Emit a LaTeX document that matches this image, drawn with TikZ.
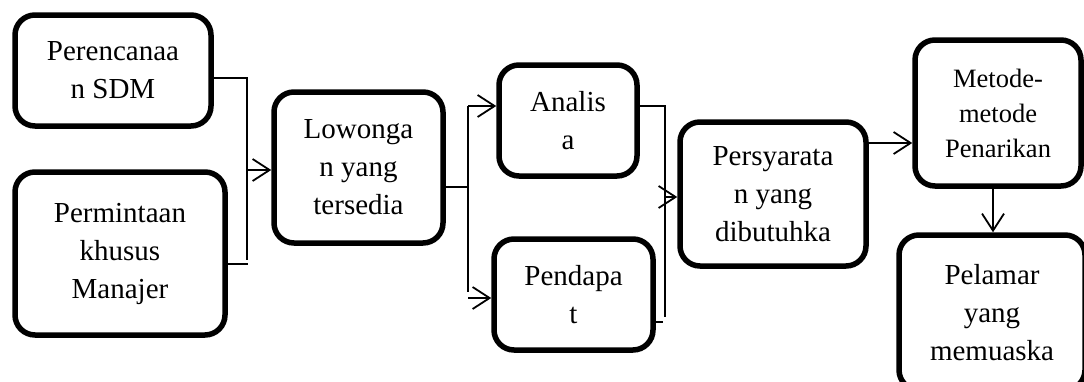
\documentclass[tikz,border=0pt]{standalone}
\usepackage{fontspec}
\setmainfont{Liberation Serif}
\usetikzlibrary{arrows.meta}
\tikzset{
  box/.style={draw, line width=5.5pt, rounded corners=20pt, align=center, inner sep=0pt,
    font=\fontsize{29}{38}\selectfont},
  conn/.style={line width=1.8pt},
  arr/.style={conn, -{Straight Barb[length=17pt,width=22pt,line width=1.8pt]}},
}
\begin{document}
\begin{tikzpicture}[x=1pt,y=-1pt]
\clip (0,0) rectangle (1084,381);
\fill[white] (0,0) rectangle (1084,381);
% boxes
\node[box, minimum width=196pt, minimum height=111pt] (p1) at (113,70.5) {Perencanaa\\n SDM};
\node[box, minimum width=210pt, minimum height=163pt] (p2) at (120,253.5) {Permintaan\\khusus\\Manajer};
\node[box, minimum width=169pt, minimum height=151pt] (low) at (358.5,167.5) {Lowonga\\n yang\\tersedia};
\node[box, minimum width=138pt, minimum height=111pt] (an) at (568,120.5) {Analis\\a};
\node[box, minimum width=159pt, minimum height=111pt] (pd) at (573.5,294.5) {Pendapa\\t};
\node[box, minimum width=186pt, minimum height=144pt] (ps) at (773,194) {Persyarata\\n yang\\dibutuhka};
\node[box, minimum width=166pt, minimum height=146pt, font=\fontsize{26.5}{35}\selectfont] (mt) at (998,113) {Metode-\\metode\\Penarikan};
\node[box, minimum width=186pt, minimum height=155pt] (pl) at (992,312.5) {Pelamar\\yang\\memuaska};
% junction coordinates
\coordinate (ja) at (247,78);
\coordinate (jb) at (247,260);
\coordinate (jc) at (248,264);
\coordinate (jd) at (247,170);
\coordinate (je) at (468,187);
\coordinate (jf) at (468,106);
\coordinate (jg) at (468,292);
\coordinate (jh) at (468,298);
\coordinate (ji) at (665,106);
\coordinate (jj) at (665,317);
\coordinate (jk) at (663,322);
\coordinate (jl) at (665,197);
% connectors
\draw[conn] (p1.east |- ja) -- (ja) -- (jb);
\draw[conn] (p2.east |- jc) -- (jc);
\draw[arr] (jd) -- (low.west |- jd);
\draw[conn] (low.east |- je) -- (je);
\draw[conn] (jf) -- (jg);
\draw[arr] (jf) -- (an.west |- jf);
\draw[arr] (jh) -- (pd.west |- jh);
\draw[conn] (an.east |- ji) -- (ji) -- (jj);
\draw[conn] (pd.east |- jk) -- (jk);
\draw[arr] (jl) -- (ps.west |- jl);
\draw[arr] (ps.east |- 0,143) -- (mt.west |- 0,143);
\draw[arr] (mt.south -| 993,0) -- (pl.north -| 993,0);
\end{tikzpicture}
\end{document}
